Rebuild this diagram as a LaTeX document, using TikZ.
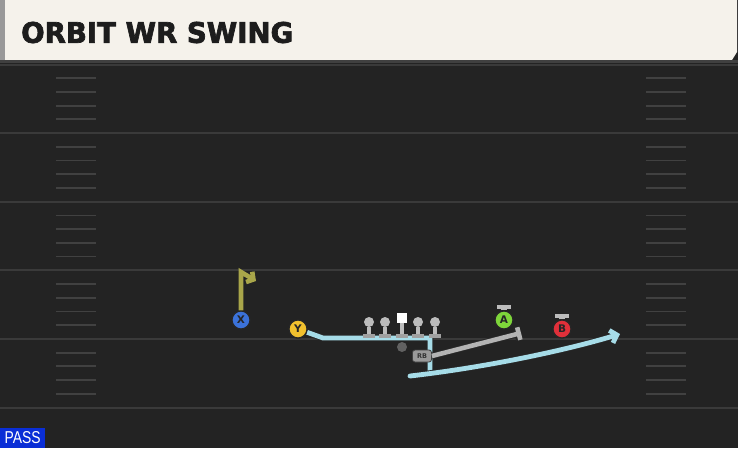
\documentclass[tikz,border=0pt]{standalone}
\usepackage{fontspec}
\usepackage{graphicx}
\setmainfont{DejaVu Sans}
\newfontfamily\titlefont[BoldFeatures={FakeBold=2.5}]{DejaVu Sans}
\newfontfamily\passfont{Liberation Sans}
\usetikzlibrary{arrows.meta}
\definecolor{fieldbg}{HTML}{232323}
\definecolor{yardc}{HTML}{3A3A3A}
\definecolor{hashc}{HTML}{414141}
\definecolor{headbg}{HTML}{F5F2EB}
\definecolor{titlec}{HTML}{1D1D1D}
\definecolor{xblue}{HTML}{3B72D9}
\definecolor{yyellow}{HTML}{F2C12E}
\definecolor{agreen}{HTML}{7ED63A}
\definecolor{bred}{HTML}{E0303A}
\definecolor{routeblue}{HTML}{A6DCE8}
\definecolor{olivec}{HTML}{A9A64A}
\definecolor{routegray}{HTML}{B3B3B3}
\definecolor{linec}{HTML}{BCBCBC}
\definecolor{passblue}{HTML}{0A2ED6}
\tikzset{
  yard/.style={draw=yardc, line width=2pt},
  hashm/.style={draw=hashc, line width=1.8pt},
  player/.style={circle, minimum size=18pt, inner sep=0pt, draw=black!85, line width=1.2pt,
    font=\bfseries\fontsize{10.5}{10.5}\selectfont, text=black!85},
  outl/.style={preaction={draw=black!85, line width=6.6pt}},
  bluer/.style={draw=routeblue, line width=4.8pt, line join=round, outl},
  oliver/.style={draw=olivec, line width=4.6pt, line join=miter},
  grayr/.style={draw=routegray, line width=4.6pt, outl},
  lhead/.style={circle, fill=linec, minimum size=10pt, inner sep=0pt},
  lstem/.style={draw=linec, line width=4pt},
  lbase/.style={draw=linec!85!black, line width=4pt},
  blockbar/.style={draw=linec, line width=3.5pt},
}
\begin{document}
\begin{tikzpicture}[x=1pt,y=-1pt]
\useasboundingbox (0,0) rectangle (738,448);
\fill[fieldbg] (0,0) rectangle (738,448);
% header
\fill[black!40] (0,0) rectangle (5,60);
\fill[headbg] (5,0) -- (737,0) -- (737,52) -- (732,60) -- (5,60) -- cycle;
\fill[black!75] (0,60) rectangle (738,63);
\node[anchor=west, inner sep=0pt, text=titlec] (title) at (21,32.5)
  {\resizebox{272pt}{21pt}{\titlefont\bfseries ORBIT WR SWING}};
% yard lines
\foreach \yy in {64.5,133.1,201.7,270.3,338.9,407.5}
  \draw[yard] (0,\yy) -- (738,\yy);
% hash marks
\foreach \yy in {64.5,133.1,201.7,270.3,338.9}
  \foreach \k in {1,2,3,4} {
    \draw[hashm] (56,{\yy+13.72*\k}) -- (96,{\yy+13.72*\k});
    \draw[hashm] (646,{\yy+13.72*\k}) -- (686,{\yy+13.72*\k});
  }
% Y route (behind line)
\node[player, fill=yyellow] (Y) at (298,329) {Y};
\coordinate (y1) at (323,338);
\coordinate (y2) at (430,338);
\coordinate (y3) at (430,374);
\draw[bluer] (Y) -- (y1) -- (y2) -- (y3);
% swing route
\coordinate (s0) at (410,376);
\coordinate (s1) at (620,334);
\draw[bluer, line cap=round, -{Straight Barb[length=6pt,width=13pt]}] (s0) .. controls (480,368) and (560,352) .. (s1);
% players
\node[player, fill=xblue] (X) at (241,320) {X};
\node[player, fill=yyellow] (Y) at (298,329) {Y};
\node[player, fill=agreen] (A) at (504,320) {A};
\node[player, fill=bred] (B) at (562,329) {B};
% block symbols above A and B
\coordinate (Abar) at (504,307);
\coordinate (Bbar) at (562,316);
\draw[lstem, line width=5.5pt] (A.north) -- (Abar);
\draw[blockbar] ([xshift=-7pt]Abar) -- ([xshift=7pt]Abar);
\draw[lstem, line width=5.5pt] (B.north) -- (Bbar);
\draw[blockbar] ([xshift=-7pt]Bbar) -- ([xshift=7pt]Bbar);
% linemen
\foreach \nm/\xx in {l1/369,l2/385,l4/418,l5/435} {
  \node[lhead] (\nm) at (\xx,322) {};
  \draw[lstem] (\nm.south) -- (\xx,334);
  \draw[lbase] (\xx-6,335.5) -- (\xx+6,335.5);
}
\node[fill=white, minimum size=9.5pt, inner sep=0pt] (C) at (402,318) {};
\draw[lstem] (C.south) -- (402,334);
\draw[lbase] (396,335.5) -- (408,335.5);
% QB
\node[circle, fill=black!62, minimum size=10pt, inner sep=0pt] (QB) at (402,347) {};
% RB
\node[rounded corners=2.5pt, fill=black!40, draw=black!75, line width=0.8pt,
  minimum width=19pt, minimum height=12pt, inner sep=0pt,
  font=\bfseries\fontsize{6.5}{6.5}\selectfont, text=black!80] (RB) at (422,356) {RB};
\coordinate (rbend) at (521,333);
\draw[grayr, -{Bar[width=13pt]}] (RB.east) -- (rbend);
% X route
\coordinate (x1) at (241,272);
\coordinate (x2) at (256,281);
\draw[oliver, -{Straight Barb[length=5pt,width=12pt]}] (X) -- (x1) -- (x2);
% PASS label
\node[fill=passblue, anchor=south west, minimum width=45pt, minimum height=20pt, inner sep=0pt,
  text=white] (pass) at (0,448) {\resizebox{36pt}{12pt}{\passfont PASS}};
\end{tikzpicture}
\end{document}
